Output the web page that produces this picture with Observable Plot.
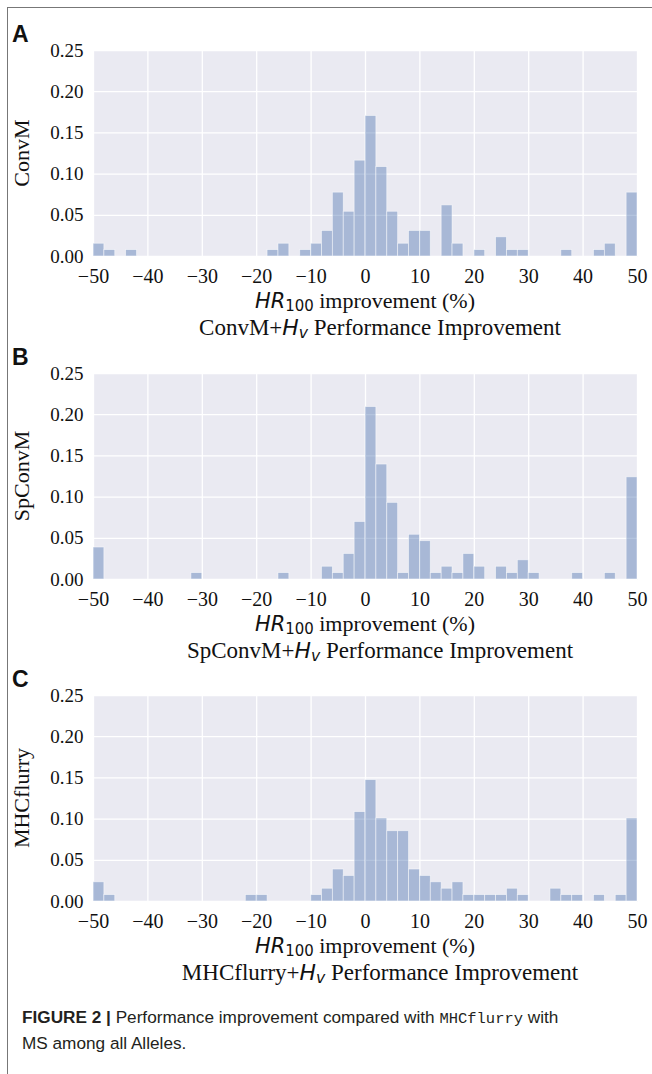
<!DOCTYPE html>
<html><head><meta charset="utf-8">
<script src="https://cdn.jsdelivr.net/npm/d3@7"></script>
<script src="https://cdn.jsdelivr.net/npm/@observablehq/plot@0.6"></script>
<style>
body{margin:0;background:#fff;}
#fig{position:relative;width:652px;height:1074px;overflow:hidden;background:#fff;}
.frame{position:absolute;left:7px;top:7px;width:700px;height:1100px;border-left:1.5px solid #777;border-top:1.5px solid #777;}
.letter{position:absolute;font-family:"Liberation Sans",Arial,sans-serif;font-weight:bold;font-size:23px;line-height:1;color:#111;transform:translate(0,-50%);}
.ylab{position:absolute;font-family:"Liberation Serif","Times New Roman",serif;font-size:22px;line-height:1;color:#111;transform:translate(-50%,-50%) rotate(-90deg);white-space:nowrap;}
.xlab,.ttl{position:absolute;transform:translate(-50%,-50%);white-space:nowrap;font-family:"Liberation Serif","Times New Roman",serif;line-height:1;color:#111;}
.xlab{font-size:22px;}
.ttl{font-size:23px;}
.m{font-family:"DejaVu Sans";font-style:italic;font-size:0.95em;line-height:1;}
.sub{font-family:"DejaVu Sans";font-size:0.68em;line-height:1;position:relative;top:0.22em;}
.msub{font-family:"DejaVu Sans";font-style:italic;font-size:0.68em;line-height:1;position:relative;top:0.22em;}
.plot{position:absolute;left:0;}
.caption{position:absolute;left:22px;top:1005px;font-family:"Liberation Sans",Arial,sans-serif;font-size:17.2px;line-height:24px;color:#231f20;white-space:nowrap;}
.caption b{font-weight:bold;}
.mono{font-family:"Liberation Mono","DejaVu Sans Mono",monospace;font-size:0.9em;}
</style>
</head><body>
<div id="fig"><div class="frame"></div></div>
<script>
// proportion of alleles in each 2-point bin of HR100 improvement, from -50 to 50
const binStart = d3.range(-50, 50, 2);
const xTicks = [-50, -40, -30, -20, -10, 0, 10, 20, 30, 40, 50];
const yTicks = [0, 0.05, 0.10, 0.15, 0.20, 0.25];
const panelLetters = ["A", "B", "C"];
const panelModels = ["ConvM", "SpConvM", "MHCflurry"];

const convM = [
  0.0155, 0.0078, 0, 0.0078, 0, 0, 0, 0, 0, 0,
  0, 0, 0, 0, 0, 0, 0.0078, 0.0155, 0, 0.0078,
  0.0155, 0.0310, 0.0775, 0.0543, 0.1163, 0.1705, 0.1085, 0.0543, 0.0155, 0.0310,
  0.0310, 0, 0.0620, 0.0155, 0, 0.0078, 0, 0.0233, 0.0078, 0.0078,
  0, 0, 0, 0.0078, 0, 0, 0.0078, 0.0155, 0, 0.0775
];
const spConvM = [
  0.0388, 0, 0, 0, 0, 0, 0, 0, 0, 0.0078,
  0, 0, 0, 0, 0, 0, 0, 0.0078, 0, 0,
  0, 0.0155, 0.0078, 0.0310, 0.0698, 0.2093, 0.1395, 0.0930, 0.0078, 0.0543,
  0.0465, 0.0078, 0.0155, 0.0078, 0.0310, 0.0155, 0, 0.0155, 0.0078, 0.0233,
  0.0078, 0, 0, 0, 0.0078, 0, 0, 0.0078, 0, 0.1240
];
const mhcflurry = [
  0.0233, 0.0078, 0, 0, 0, 0, 0, 0, 0, 0,
  0, 0, 0, 0, 0.0078, 0.0078, 0, 0, 0, 0,
  0.0078, 0.0155, 0.0388, 0.0310, 0.1085, 0.1473, 0.1008, 0.0853, 0.0853, 0.0388,
  0.0310, 0.0233, 0.0155, 0.0233, 0.0078, 0.0078, 0.0078, 0.0078, 0.0155, 0.0078,
  0, 0, 0.0155, 0.0078, 0.0078, 0, 0.0078, 0, 0.0078, 0.1008
];
const series = [convM, spConvM, mhcflurry];

const fig = document.getElementById("fig");
const plotTops = [50, 373, 695];
const MT = 10, PH = 206, MB = 40, ML = 93, MR = 15;

function add(html, cls, left, top) {
  const d = document.createElement("div");
  d.className = cls;
  d.innerHTML = html;
  d.style.left = left + "px";
  d.style.top = top + "px";
  fig.appendChild(d);
}

series.forEach((vals, i) => {
  const T = plotTops[i];
  const data = vals.map((v, k) => ({x1: binStart[k], x2: binStart[k] + 2, y: v}));
  const p = Plot.plot({
    width: 652, height: MT + PH + MB,
    marginTop: MT, marginBottom: MB, marginLeft: ML, marginRight: MR,
    style: {fontFamily: '"Liberation Serif","Times New Roman",serif', fontSize: "20px", color: "#111", background: "transparent", overflow: "visible"},
    x: {domain: [-50, 50]},
    y: {domain: [0, 0.25]},
    marks: [
      Plot.frame({fill: "#EAEAF2", stroke: null}),
      Plot.gridX(xTicks, {stroke: "white", strokeOpacity: 1, strokeWidth: 1.3}),
      Plot.gridY(yTicks, {stroke: "white", strokeOpacity: 1, strokeWidth: 1.3}),
      Plot.rectY(data, {x1: "x1", x2: "x2", y: "y", fill: "#4C72B0", fillOpacity: 0.42, stroke: "white", strokeOpacity: 0.6, strokeWidth: 0.8}),
      Plot.axisX(xTicks, {tickSize: 0, tickPadding: 12, label: null, fontSize: 20}),
      Plot.axisY(yTicks, {tickSize: 0, tickPadding: 10, tickFormat: ".2f", label: null, fontSize: 19})
    ]
  });
  p.classList.add("plot");
  p.style.top = (T - MT) + "px";
  fig.appendChild(p);

  add(panelLetters[i], "letter", 12, T - 16);
  add(panelModels[i], "ylab", 22, T + PH / 2);
  add('<span class="m">HR</span><span class="sub">100</span> improvement (%)', "xlab", 365, T + PH + 45);
  add(panelModels[i] + '+<span class="m">H</span><span class="msub">v</span> Performance Improvement', "ttl", 380, T + PH + 71);
});

const cap = document.createElement("div");
cap.className = "caption";
cap.innerHTML = '<b>FIGURE 2 | </b>Performance improvement compared with <span class="mono">MHCflurry</span> with<br>MS among all Alleles.';
fig.appendChild(cap);
</script>
</body></html>
